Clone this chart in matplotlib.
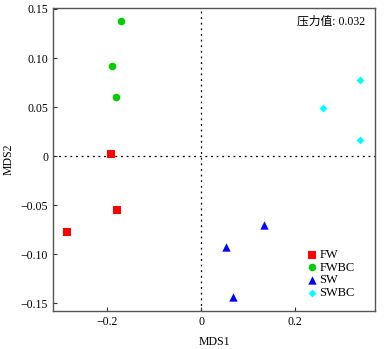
import matplotlib

matplotlib.use("Agg")
import matplotlib.pyplot as plt

# NMDS coordinates
groups = ["FW", "FWBC", "SW", "SWBC"]
fw_x = [-0.191, -0.179, -0.285]
fw_y = [0.0023, -0.055, -0.077]
fwbc_x = [-0.171, -0.189, -0.180]
fwbc_y = [0.1376, 0.0923, 0.060]
sw_x = [0.133, 0.054, 0.068]
sw_y = [-0.0702, -0.0923, -0.1438]
swbc_x = [0.339, 0.259, 0.339]
swbc_y = [0.078, 0.0495, 0.0166]
stress = 0.032

x_ticks = [-0.2, 0, 0.2]
x_tick_labels = ["\u22120.2", "0", "0.2"]
y_ticks = [-0.15, -0.10, -0.05, 0, 0.05, 0.10, 0.15]
y_tick_labels = ["\u22120.15", "\u22120.10", "\u22120.05", "0", "0.05", "0.10", "0.15"]

plt.rcParams["font.family"] = ["Liberation Serif", "Noto Sans CJK SC"]
plt.rcParams["font.size"] = 8.5

fig = plt.figure(figsize=(3.84, 3.49), dpi=100)
ax = fig.add_axes([53 / 384, 1 - 311 / 349, (375 - 53) / 384, (311 - 8) / 349])

ax.axhline(0, color="black", linestyle=(0, (1.5, 3)), linewidth=0.9, zorder=1)
ax.axvline(0, color="black", linestyle=(0, (1.5, 3)), linewidth=0.9, zorder=1)

series = [
    (fw_x, fw_y, "s", "#ff0000", 26),
    (fwbc_x, fwbc_y, "o", "#00cc00", 30),
    (sw_x, sw_y, "^", "#0000ff", 36),
    (swbc_x, swbc_y, "D", "#00ffff", 16),
]
for name, (xs, ys, marker, color, size) in zip(groups, series):
    ax.scatter(xs, ys, marker=marker, s=size, color=color, linewidths=0,
               label=name, zorder=3)

ax.set_xlim(-0.315, 0.37)
ax.set_ylim(-0.158, 0.151)
ax.set_xticks(x_ticks)
ax.set_xticklabels(x_tick_labels)
ax.set_yticks(y_ticks)
ax.set_yticklabels(y_tick_labels)
ax.tick_params(direction="in", length=3, width=0.8, colors="#333333",
               labelcolor="black")
for spine in ax.spines.values():
    spine.set_color("#555555")
    spine.set_linewidth(1.0)

ax.set_xlabel("MDS1", labelpad=6)
ax.set_ylabel("MDS2", labelpad=4)

ax.text(0.97, 0.975, f"压力值: {stress}", transform=ax.transAxes,
        ha="right", va="top", fontsize=8.5)

ax.legend(loc="upper left", bbox_to_anchor=(0.765, 0.225), frameon=False,
          handletextpad=0.1, labelspacing=0.05, borderpad=0.0,
          handlelength=1.0, markerscale=1.0, fontsize=9)

fig.savefig("out.png", dpi=100)
